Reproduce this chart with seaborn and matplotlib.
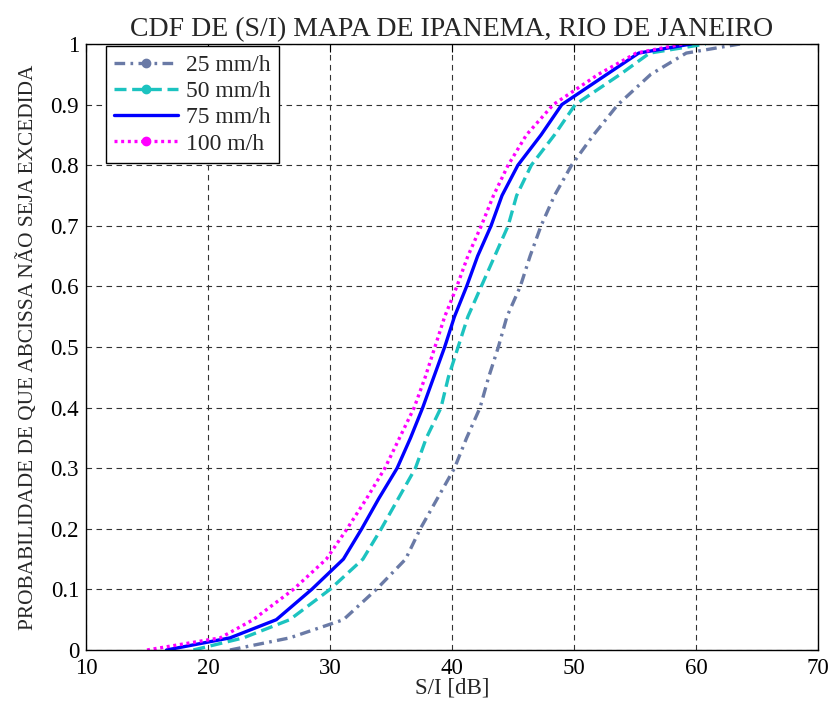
import matplotlib
matplotlib.use("Agg")
import matplotlib.pyplot as plt
import seaborn as sns
import pandas as pd
from matplotlib.lines import Line2D
from matplotlib.ticker import FormatStrFormatter, MultipleLocator

# CDF levels (probability)
prob = [0.0, 0.02, 0.05, 0.1, 0.15, 0.2, 0.25, 0.3, 0.35, 0.4, 0.45, 0.5,
        0.55, 0.6, 0.65, 0.7, 0.75, 0.8, 0.85, 0.9, 0.95, 0.985, 1.0]

# S/I [dB] at each probability level
si_25 = [21.8, 26.7, 31.1, 33.8, 36.2, 37.4, 38.8, 40.2, 41.2, 42.3, 43.0, 43.8,
         44.5, 45.6, 46.4, 47.3, 48.4, 49.8, 51.6, 53.6, 56.3, 59.2, 63.6]
si_50 = [18.8, 22.9, 26.7, 30.0, 32.7, 34.2, 35.6, 37.0, 37.9, 39.1, 39.7, 40.5,
         41.3, 42.4, 43.5, 44.6, 45.3, 46.5, 48.4, 50.1, 53.8, 56.2, 60.8]
si_75 = [16.6, 21.8, 25.6, 28.5, 31.1, 32.6, 34.0, 35.5, 36.6, 37.6, 38.5, 39.4,
         40.2, 41.2, 42.1, 43.2, 44.1, 45.4, 47.3, 49.0, 52.7, 55.3, 59.6]
si_100 = [15.0, 21.0, 23.7, 27.0, 29.7, 31.4, 33.0, 34.5, 35.7, 36.9, 37.8, 38.6,
          39.4, 40.4, 41.3, 42.4, 43.4, 44.6, 46.1, 48.3, 52.0, 55.1, 58.9]

labels = ["25 mm/h", "50 mm/h", "75 mm/h", "100 m/h"]
series = [si_25, si_50, si_75, si_100]

sns.set_style("white")
plt.rcParams["font.family"] = ["Liberation Serif", "DejaVu Serif"]

fig = plt.figure(figsize=(8.3, 7.02), dpi=100)
ax = fig.add_axes([86/830, 1 - 650/702, 732/830, 606/702])

colors = ["#6a7aa6", "#1cc3c0", "#0000ff", "#ff00ff"]
lw = 2.4
dashes = [(3.2, 1.6, 0.8, 1.6), (3.6, 1.7), None, (0.9, 1.1)]

for lab, xs, c, d in zip(labels, series, colors, dashes):
    df = pd.DataFrame({"si": xs, "p": prob})
    sns.lineplot(data=df, x="si", y="p", ax=ax, color=c, lw=lw,
                 sort=False, estimator=None, legend=False)
    line = ax.lines[-1]
    if d is not None:
        line.set_dashes(d)
    line.set_dash_capstyle("butt")

ax.set_xlim(10, 70)
ax.set_ylim(0, 1)
ax.xaxis.set_major_locator(MultipleLocator(10))
ax.yaxis.set_major_locator(MultipleLocator(0.1))
ax.yaxis.set_major_formatter(FormatStrFormatter("%g"))

ax.grid(True, color="#333333", linestyle=(0, (5, 4)), linewidth=0.8)
ax.set_axisbelow(True)
for s in ax.spines.values():
    s.set_color("black")
    s.set_linewidth(1.0)
ax.tick_params(direction="in", length=6, width=0.8, top=True, right=True,
               labelsize=16.5, colors="black")
ax.tick_params(axis="x", pad=6)
ax.tick_params(axis="y", pad=5)

ax.set_title("CDF DE (S/I) MAPA DE IPANEMA, RIO DE JANEIRO", fontsize=20, pad=6)
ax.set_xlabel("S/I [dB]", fontsize=16.5, labelpad=-1)
ax.set_ylabel("PROBABILIDADE DE QUE ABCISSA NÃO SEJA EXCEDIDA", fontsize=15.3, labelpad=9)

handles = []
markers = [".", ".", None, "."]
for c, d, m in zip(colors, dashes, markers):
    h = Line2D([0], [0], color=c, lw=lw, marker=m, markersize=12)
    if d is not None:
        h.set_dashes(d)
    handles.append(h)
leg = ax.legend(handles, labels, loc="upper left", bbox_to_anchor=(20/732, 1 - 2/606),
                frameon=True, fancybox=False, framealpha=1, edgecolor="black",
                fontsize=17, handlelength=2.7, borderaxespad=0, numpoints=1,
                labelspacing=0.2, borderpad=0.35, handletextpad=0.35)
leg.get_frame().set_linewidth(1.0)

fig.savefig("out.png", dpi=100, facecolor="white")
